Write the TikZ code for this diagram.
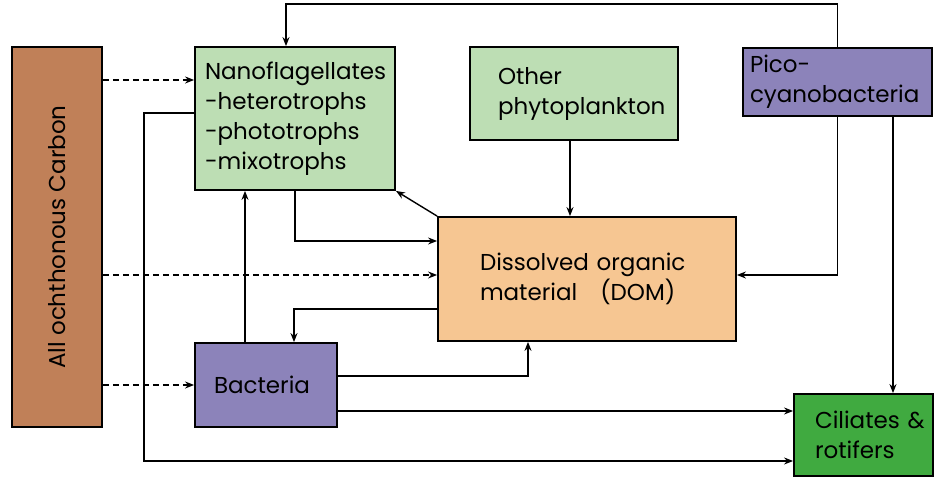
\documentclass[tikz,border=0pt]{standalone}
\usepackage{fontspec}
\setmainfont{Poppins}
\usetikzlibrary{arrows.meta}

\definecolor{carbonbrown}{RGB}{192,128,88}
\definecolor{lightgreen}{RGB}{189,222,180}
\definecolor{lilac}{RGB}{140,131,186}
\definecolor{peach}{RGB}{246,198,146}
\definecolor{grassgreen}{RGB}{64,170,64}

\begin{document}
\begin{tikzpicture}[x=1pt, y=1pt]
   \tikzstyle{box}=[draw, line width=1.8pt, inner sep=0pt, align=left, font=\fontsize{23}{30}\selectfont]
   \tikzstyle{flow}=[line width=1.4pt, -{Stealth[length=9pt, width=7pt]}]
   \tikzstyle{feed}=[flow, dash pattern=on 6pt off 4pt]

\useasboundingbox (0,0) rectangle (935,478);

\node[box, fill=carbonbrown, rotate=90, minimum width=380, minimum height=90, align=center] (carbon) at (57,241) {All ochthonous Carbon};
\node[box, fill=lightgreen, minimum width=200, minimum height=143, text width=180] (nano) at (295,359.5)
    {Nanoflagellates\\-heterotrophs\\-phototrophs\\-mixotrophs};
\node[box, fill=lightgreen, minimum width=208, minimum height=93, text width=152] (other) at (574,384.5)
    {Other\\phytoplankton};
\node[box, fill=lilac, minimum width=189, minimum height=68, text width=175] (pico) at (837.5,396)
    {Pico-\\cyanobacteria};
\node[box, fill=peach, minimum width=298, minimum height=124, text width=214] (dom) at (587,199)
    {Dissolved organic\\material~~~(DOM)};
\node[box, fill=lilac, minimum width=142, minimum height=84, text width=104] (bact) at (266,93) {Bacteria};
\node[box, fill=grassgreen, minimum width=139, minimum height=82, text width=97] (cil) at (863.5,43)
    {\mbox{Ciliates \&}\\rotifers};

\path ([yshift=38.5]nano.west) coordinate (nanoin)
      ([yshift=4]dom.west) coordinate (domin)
      ([yshift=4]dom.east) coordinate (picoin)
      ([yshift=5.5]nano.west) coordinate (nanoout)
      ([yshift=-26]cil.west) coordinate (cillow)
      ([yshift=24]cil.west) coordinate (cilhigh);

% allochthonous inputs
\draw[feed] (nanoin -| carbon.south) -- (nanoin);
\draw[feed] (domin -| carbon.south) -- (domin);
\draw[feed] (bact.west -| carbon.south) -- (bact.west);

\draw[flow] (pico.north) -- ++(0,43) -| ([xshift=-9]nano.north);
\draw[flow] (nanoout) -- ++(-50,0) |- (cillow);
\draw[flow] (nano.south) |- ([yshift=38]dom.west);
\draw[flow] ([xshift=-21]bact.north) -- ([xshift=-21]bact.north |- nano.south);
\draw[flow] (dom.north west) -- (nano.south east);
\draw[flow] ([xshift=-4]other.south) -- ([xshift=-4]other.south |- dom.north);
\draw[flow] (pico.south) |- (picoin);
\draw[flow] ([xshift=55.5]pico.south) -- ([xshift=55.5]pico.south |- cil.north);
\draw[flow] ([yshift=-30]dom.west) -| ([xshift=28]bact.north);
\draw[flow] ([yshift=9]bact.east) -| ([xshift=-59]dom.south);
\draw[flow] ([yshift=-26]bact.east) -- (cilhigh);

\end{tikzpicture}
\end{document}
